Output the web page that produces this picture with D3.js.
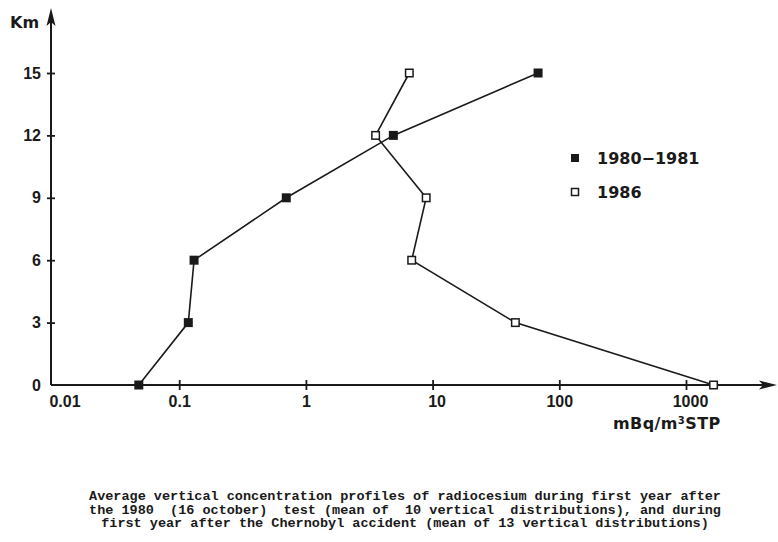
<!DOCTYPE html>
<html><head><meta charset="utf-8">
<script src="https://cdn.jsdelivr.net/npm/d3@7"></script>
<style>body{margin:0;background:#fff}svg{display:block}</style>
</head><body>
<script>
// ---- data ----
const altitudes = [0, 3, 6, 9, 12, 15];           // km
const series1980 = [0.048, 0.118, 0.131, 0.70, 4.9, 68];   // 1980-1981, mBq/m3 STP
const series1986 = [1650, 45, 6.84, 8.9, 3.55, 6.55];      // 1986
const xTicks = [0.01, 0.1, 1, 10, 100, 1000];
const xTickLabels = ["0.01", "0.1", "1", "10", "100", "1000"];
const yTicks = [0, 3, 6, 9, 12, 15];
const legendLabels = ["1980\u22121981", "1986"];
const captionLines = [
  "Average vertical concentration profiles of radiocesium during first year after",
  "the 1980  (16 october)  test (mean of  10 vertical  distributions), and during",
  "first year after the Chernobyl accident (mean of 13 vertical distributions)"
];

const W = 778, H = 542;
const ink = "#1a1a1a";
const sans = "Liberation Sans, Arial, sans-serif";
const wide = "DejaVu Sans, sans-serif";
const svg = d3.select("body").append("svg").attr("width", W).attr("height", H);

const x = d3.scaleLog().domain([0.01, 1000]).range([52.5, 686]);
const y = d3.scaleLinear().domain([0, 15]).range([385, 73]);
const axX = 51, axY = 385;

// axes lines with arrows
svg.append("line").attr("x1", axX).attr("x2", axX).attr("y1", axY).attr("y2", 14)
  .attr("stroke", ink).attr("stroke-width", 2);
svg.append("path").attr("d", `M${axX},8 L${axX-4.5},26 L${axX},22 L${axX+4.5},26 Z`).attr("fill", ink);
svg.append("line").attr("x1", axX).attr("x2", 772).attr("y1", axY).attr("y2", axY)
  .attr("stroke", ink).attr("stroke-width", 2);
svg.append("path").attr("d", `M777,${axY} L759,${axY-4.5} L763,${axY} L759,${axY+4.5} Z`).attr("fill", ink);

// x axis ticks via d3 axis
const xAxis = d3.axisBottom(x).tickValues(xTicks)
  .tickFormat((d, i) => xTickLabels[i]).tickSize(5).tickPadding(6);
const gx = svg.append("g").attr("transform", `translate(0,${axY})`).call(xAxis);
gx.select(".domain").remove();
gx.selectAll(".tick line").attr("y1", -5).attr("y2", 5).attr("stroke", ink).attr("stroke-width", 1.8);
gx.selectAll(".tick line").filter(d => d === 0.01).remove();
gx.selectAll(".tick text").attr("font-family", sans)
  .attr("font-weight", "bold").attr("font-size", 16).attr("fill", ink).attr("dy", "0.7em");
gx.selectAll(".tick text").filter(d => d === 0.01).attr("dx", 12);
gx.selectAll(".tick text").filter(d => d === 10 || d === 1000).attr("dx", 4);

// y axis ticks
const yAxis = d3.axisLeft(y).tickValues(yTicks).tickFormat(d3.format("d")).tickSize(4).tickPadding(6);
const gy = svg.append("g").attr("transform", `translate(${axX},0)`).call(yAxis);
gy.select(".domain").remove();
gy.selectAll(".tick line").attr("x1", -4).attr("x2", 4).attr("stroke", ink).attr("stroke-width", 1.8);
gy.selectAll(".tick line").filter(d => d === 0).remove();
gy.selectAll(".tick text").attr("font-family", sans)
  .attr("font-weight", "bold").attr("font-size", 16).attr("fill", ink);

// axis labels
svg.append("text").attr("x", 10).attr("y", 28).text("Km")
  .attr("font-family", wide).attr("font-weight", "bold")
  .attr("font-size", 16).attr("fill", ink);
const xt = svg.append("text").attr("x", 613).attr("y", 429)
  .attr("font-family", wide).attr("font-weight", "bold").attr("letter-spacing", 0.4)
  .attr("font-size", 16).attr("fill", ink);
xt.append("tspan").text("mBq/m");
xt.append("tspan").text("3").attr("font-size", 10).attr("dy", -5);
xt.append("tspan").text("STP").attr("dy", 5);

// lines
const line = d3.line().x(d => x(d[0])).y(d => y(d[1]));
const d1980 = series1980.map((v, i) => [v, altitudes[i]]);
const d1986 = series1986.map((v, i) => [v, altitudes[i]]);
svg.append("path").datum(d1980).attr("d", line).attr("fill", "none").attr("stroke", ink).attr("stroke-width", 1.6);
svg.append("path").datum(d1986).attr("d", line).attr("fill", "none").attr("stroke", ink).attr("stroke-width", 1.6);

const s = 9;
svg.append("g").selectAll("rect").data(d1980).join("rect")
  .attr("x", d => x(d[0]) - s/2).attr("y", d => y(d[1]) - s/2)
  .attr("width", s).attr("height", s).attr("fill", ink);
svg.append("g").selectAll("rect").data(d1986).join("rect")
  .attr("x", d => x(d[0]) - (s-1.5)/2).attr("y", d => y(d[1]) - (s-1.5)/2)
  .attr("width", s-1.5).attr("height", s-1.5).attr("fill", "#fff").attr("stroke", ink).attr("stroke-width", 1.5);

// legend
const lg = svg.append("g");
lg.append("rect").attr("x", 571).attr("y", 154).attr("width", 8).attr("height", 8).attr("fill", ink);
lg.append("rect").attr("x", 571.5).attr("y", 188.5).attr("width", 7).attr("height", 7)
  .attr("fill", "#fff").attr("stroke", ink).attr("stroke-width", 1.5);
lg.selectAll("text").data(legendLabels).join("text")
  .attr("x", 597).attr("y", (d, i) => 164 + i * 34).text(d => d)
  .attr("font-family", wide).attr("font-weight", "bold")
  .attr("font-size", 16).attr("fill", ink);

// caption
svg.append("g").selectAll("text").data(captionLines).join("text")
  .attr("x", 405).attr("y", (d, i) => 500 + i * 13.5).attr("text-anchor", "middle")
  .style("white-space", "pre").attr("xml:space", "preserve")
  .attr("font-family", "Liberation Mono, DejaVu Sans Mono, monospace").attr("font-weight", "bold")
  .attr("font-size", 13.5).attr("fill", ink).text(d => d);
</script>
</body></html>
